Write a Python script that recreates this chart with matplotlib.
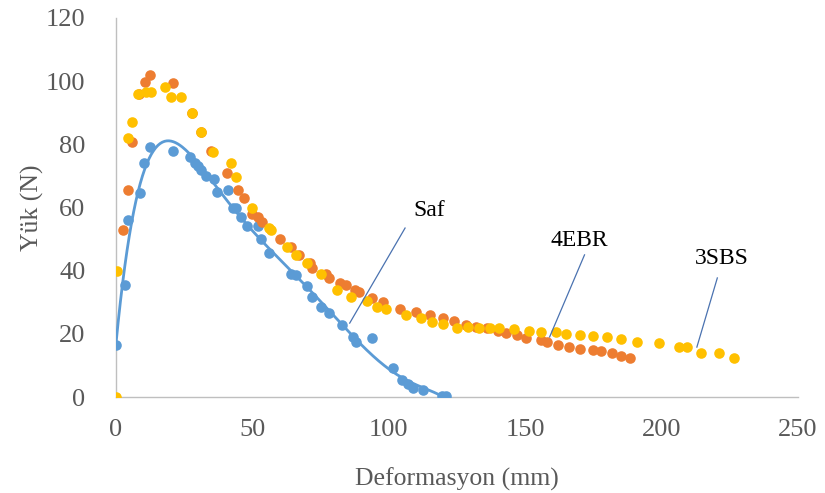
import numpy as np
import matplotlib
matplotlib.use("Agg")
import matplotlib.pyplot as plt

# Saf (blue) measured points
saf_x = [0, 3.3, 4.4, 8.8, 10.3, 12.5, 21, 27, 29, 30, 31, 33, 36, 37, 41, 43, 44, 46, 48,
         52, 53, 56, 64, 66, 70, 72, 75, 78, 83, 87, 88, 94, 101.5, 105, 107, 109, 112.5,
         119.5, 121]
saf_y = [16.5, 35.4, 56, 64.5, 74, 79, 78, 76, 74, 73, 72, 70, 69, 65, 65.5, 60, 60, 57, 54,
         54, 50, 45.6, 39, 38.6, 35, 31.6, 28.5, 26.6, 22.8, 19, 17.4, 18.7, 9.2, 5.4, 4, 2.8,
         2.2, 0.3, 0.3]

# 4EBR (orange)
ebr_x = [2.6, 4.4, 5.9, 8.5, 10.6, 12.5, 21, 28, 31, 35, 40.7, 44.7, 47, 50, 52, 53.5, 60,
         64, 67, 71, 72, 77, 78, 82, 84.5, 87.5, 89, 94, 98, 104, 110, 115, 120, 124, 128.5,
         132, 136, 140, 143, 147, 150.5, 156, 158, 162, 166, 170, 175, 178, 182, 185, 188.6]
ebr_y = [53, 65.5, 80.7, 96, 99.7, 102, 99.4, 90, 84, 78, 71, 65.5, 63, 58, 57, 55.4, 50,
         47.5, 45, 42.4, 41, 39, 37.6, 36, 35.4, 34, 33.2, 31.3, 30, 28, 27, 26, 25, 24, 22.8,
         22.3, 21.8, 21, 20.3, 19.5, 18.7, 18, 17.4, 16.6, 15.8, 15.3, 14.9, 14.5, 13.9, 13,
         12.3]

# 3SBS (yellow)
sbs_x = [0, 0.3, 4.4, 5.9, 8, 11, 13, 18, 20, 24, 28, 31, 35.5, 42, 44, 50, 56, 57, 62.6,
         66, 70, 75, 81, 86, 92, 95.6, 99, 106.5, 112, 116, 120, 125, 129, 133, 137, 140.6,
         146, 151.6, 156, 161.5, 165, 170, 175, 180, 185, 191, 199, 206.6, 209.5, 214.6, 221,
         226.7]
sbs_y = [0, 40, 82, 87, 96, 96.5, 96.5, 98, 95, 95, 90, 84, 77.5, 74, 69.6, 60, 53.5, 52.8,
         47.5, 45, 42.4, 39, 33.9, 31.6, 30.5, 28.5, 28, 26, 25, 23.7, 23, 22, 22.3, 22, 22,
         21.8, 21.4, 21, 20.6, 20.6, 20, 19.6, 19.3, 19, 18.3, 17.4, 17, 15.8, 15.8, 13.9, 13.9,
         12.3]

x_ticks = [0, 50, 100, 150, 200, 250]
y_ticks = [0, 20, 40, 60, 80, 100, 120]

# series labels: text position and leader line ends (data units)
labels = [("Saf", (115, 59), (106, 53.5), (85.7, 23.4)),
          ("4EBR", (170, 49.7), (171.8, 45), (159, 19)),
          ("3SBS", (222, 44), (220.5, 37.7), (213, 15.8))]

BLUE = "#5B9BD5"
ORANGE = "#ED7D31"
YELLOW = "#FFC000"
GRAY = "#595959"

plt.rcParams["font.family"] = ["Liberation Serif", "DejaVu Serif"]

fig = plt.figure(figsize=(8.25, 4.93), dpi=100)
ax = fig.add_axes([0.1406, 0.1947, 0.8264, 0.7688])

ms = 58
ax.scatter(saf_x, saf_y, s=ms, color=BLUE, zorder=3, linewidths=0)
ax.scatter(ebr_x, ebr_y, s=ms, color=ORANGE, zorder=3, linewidths=0)
ax.scatter(sbs_x, sbs_y, s=ms, color=YELLOW, zorder=3, linewidths=0)

# polynomial trendline for Saf
poly = np.polynomial.Polynomial.fit(saf_x, saf_y, 6)
xx = np.linspace(0, 121, 300)
ax.plot(xx, poly(xx), color=BLUE, lw=2.0, zorder=4)

for txt, tpos, p0, p1 in labels:
    ax.plot([p0[0], p1[0]], [p0[1], p1[1]], color="#4A72B0", lw=0.9, zorder=5)
    ax.text(tpos[0], tpos[1], txt, fontsize=17, color="black", ha="center", va="center", zorder=6)

ax.set_xlim(0, 250)
ax.set_ylim(0, 120)
ax.set_xticks(x_ticks)
ax.set_yticks(y_ticks)
ax.tick_params(length=0, labelsize=19, labelcolor=GRAY)
ax.tick_params(axis="x", pad=16)
ax.tick_params(axis="y", pad=22)
ax.set_xlabel("Deformasyon (mm)", fontsize=18.5, color=GRAY, labelpad=19)
ax.set_ylabel("Yük (N)", fontsize=18.5, color=GRAY, labelpad=1)

for s in ["top", "right"]:
    ax.spines[s].set_visible(False)
for s in ["left", "bottom"]:
    ax.spines[s].set_color("#BFBFBF")
    ax.spines[s].set_linewidth(1.0)

fig.savefig("out.png", dpi=100)
